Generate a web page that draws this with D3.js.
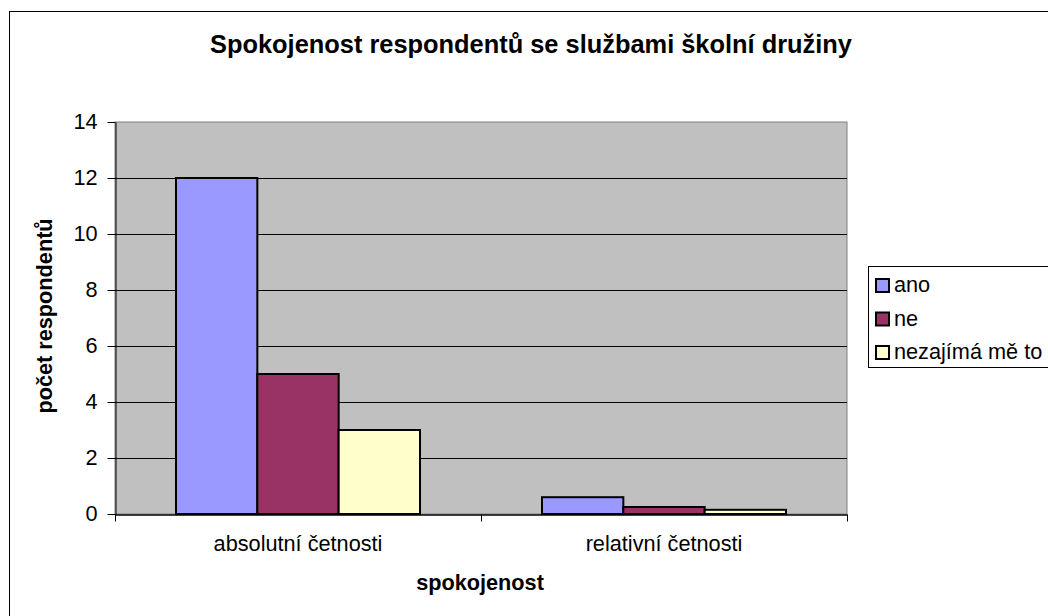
<!DOCTYPE html>
<head>
  <meta charset="utf-8">
  <style>
    body { margin: 0; background: #fff; }
    text { font-family: "Liberation Sans", Arial, sans-serif; fill: #000; }
    .title { font-size: 25.4px; font-weight: bold; }
    .axis-label { font-size: 21.7px; font-weight: bold; }
    .tick text { font-size: 21.7px; font-family: "Liberation Sans", Arial, sans-serif; }
    .legend text { font-size: 21.7px; }
  </style>
  <title>Spokojenost respondentů se službami školní družiny</title>
</head>
<body>
  <script src="https://cdn.jsdelivr.net/npm/d3@7"></script>
  <script>
    // data
    const categories = ["absolutní četnosti", "relativní četnosti"];
    const seriesNames = ["ano", "ne", "nezajímá mě to"];
    const ano = [12, 0.6];
    const ne = [5, 0.25];
    const nezajima = [3, 0.15];
    const yTicks = [0, 2, 4, 6, 8, 10, 12, 14];
    const colors = ["#9999ff", "#993366", "#ffffcc"];

    const seriesValues = [ano, ne, nezajima];
    const data = categories.map((c, i) => ({
      category: c,
      values: seriesNames.map((s, j) => ({ series: s, value: seriesValues[j][i] }))
    }));

    // plot area
    const plot = { left: 115, right: 847, top: 122, bottom: 514 };

    const svg = d3.select("body").append("svg")
      .attr("width", 1048)
      .attr("height", 616);

    // outer chart border (only left and top are visible)
    svg.append("rect")
      .attr("x", 9.5).attr("y", 11.5)
      .attr("width", 1100).attr("height", 700)
      .attr("fill", "#fff")
      .attr("stroke", "#000");

    const x0 = d3.scaleBand().domain(categories).range([plot.left, plot.right]);
    const x1 = d3.scaleBand().domain(seriesNames).range([0, x0.bandwidth()]).paddingOuter(0.75);
    const y = d3.scaleLinear().domain([0, 14]).range([plot.bottom, plot.top]);
    const color = d3.scaleOrdinal().domain(seriesNames).range(colors);

    // plot background
    svg.append("rect")
      .attr("x", plot.left).attr("y", plot.top)
      .attr("width", plot.right - plot.left).attr("height", plot.bottom - plot.top)
      .attr("fill", "#c0c0c0")
      .attr("stroke", "#808080");

    // gridlines
    svg.append("g").selectAll("line")
      .data(yTicks.filter(d => d > 0 && d < 14))
      .enter().append("line")
      .attr("x1", plot.left).attr("x2", plot.right)
      .attr("y1", d => Math.round(y(d)) + 0.5).attr("y2", d => Math.round(y(d)) + 0.5)
      .attr("stroke", "#000");

    // bars
    const groups = svg.append("g").selectAll("g")
      .data(data).enter().append("g")
      .attr("transform", d => `translate(${x0(d.category)},0)`);

    groups.selectAll("rect")
      .data(d => d.values).enter().append("rect")
      .attr("x", d => x1(d.series))
      .attr("y", d => y(d.value))
      .attr("width", x1.bandwidth())
      .attr("height", d => y(0) - y(d.value))
      .attr("fill", d => color(d.series))
      .attr("stroke", "#000")
      .attr("stroke-width", 2);

    // Y axis
    const yAxis = svg.append("g")
      .attr("transform", `translate(${plot.left + 0.5},0)`)
      .call(d3.axisLeft(y).tickValues(yTicks).tickSize(8).tickPadding(10).tickSizeOuter(0));
    yAxis.select(".domain").attr("stroke", "#000");
    yAxis.selectAll(".tick line").attr("stroke", "#000");

    // X axis: labels centered, ticks at category boundaries
    const xAxis = svg.append("g")
      .attr("transform", `translate(0,${plot.bottom + 0.5})`)
      .call(d3.axisBottom(x0).tickSize(0).tickPadding(21));
    xAxis.select(".domain").attr("stroke", "#000").attr("stroke-width", 1.5);

    const bounds = [plot.left].concat(categories.map(c => x0(c) + x0.bandwidth()));
    xAxis.selectAll(".bound")
      .data(bounds).enter().append("line")
      .attr("class", "bound")
      .attr("x1", d => Math.round(d) + 0.5).attr("x2", d => Math.round(d) + 0.5)
      .attr("y1", 0).attr("y2", 7)
      .attr("stroke", "#000");

    // axis titles
    svg.append("text")
      .attr("class", "axis-label")
      .attr("x", 480)
      .attr("y", 590)
      .attr("text-anchor", "middle")
      .text("spokojenost");

    svg.append("text")
      .attr("class", "axis-label")
      .attr("transform", "translate(52,316) rotate(-90)")
      .attr("text-anchor", "middle")
      .text("počet respondentů");

    // title
    svg.append("text")
      .attr("class", "title")
      .attr("x", 531)
      .attr("y", 53)
      .attr("text-anchor", "middle")
      .text("Spokojenost respondentů se službami školní družiny");

    // legend
    const legend = svg.append("g").attr("class", "legend");
    legend.append("rect")
      .attr("x", 868.5).attr("y", 266.5)
      .attr("width", 200).attr("height", 101)
      .attr("fill", "#fff").attr("stroke", "#000");

    const items = legend.selectAll(".item")
      .data(seriesNames).enter().append("g")
      .attr("class", "item")
      .attr("transform", (d, i) => `translate(0,${292 + i * 33.5})`);

    items.append("rect")
      .attr("x", 876).attr("y", -13)
      .attr("width", 13).attr("height", 13)
      .attr("fill", d => color(d))
      .attr("stroke", "#000")
      .attr("stroke-width", 2);

    items.append("text")
      .attr("x", 894)
      .attr("y", 0)
      .text(d => d);
  </script>
</body>
